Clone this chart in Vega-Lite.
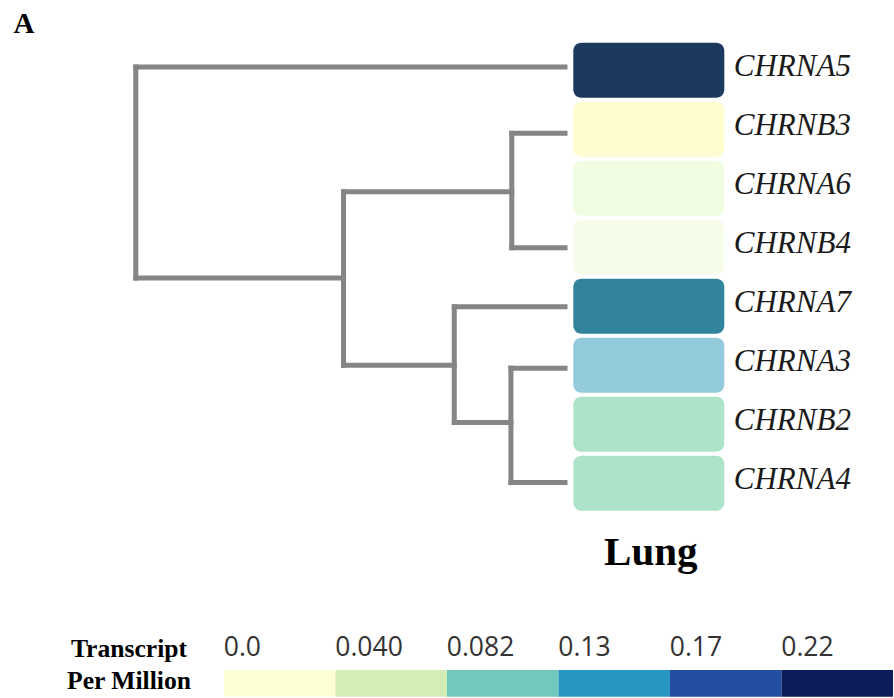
{
  "$schema": "https://vega.github.io/schema/vega-lite/v6.json",
  "width": 894,
  "height": 698,
  "autosize": "none",
  "padding": 0,
  "background": "white",
  "config": {"view": {"stroke": null}, "axis": {"grid": false}},
  "datasets": {
    "tree": [
      {"h1": 1.0, "h2": 1.0, "p1": -0.054, "p2": 3.52},
      {"h1": 1.0, "h2": 0.0, "p1": -0.054, "p2": -0.054},
      {"h1": 1.0, "h2": 0.516, "p1": 3.52, "p2": 3.52},
      {"h1": 0.516, "h2": 0.516, "p1": 2.06, "p2": 5.0},
      {"h1": 0.516, "h2": 0.124, "p1": 2.06, "p2": 2.06},
      {"h1": 0.124, "h2": 0.124, "p1": 1.07, "p2": 3.01},
      {"h1": 0.124, "h2": 0.0, "p1": 1.07, "p2": 1.07},
      {"h1": 0.124, "h2": 0.0, "p1": 3.01, "p2": 3.01},
      {"h1": 0.516, "h2": 0.258, "p1": 5.0, "p2": 5.0},
      {"h1": 0.258, "h2": 0.258, "p1": 4.01, "p2": 5.97},
      {"h1": 0.258, "h2": 0.0, "p1": 4.01, "p2": 4.01},
      {"h1": 0.258, "h2": 0.126, "p1": 5.97, "p2": 5.97},
      {"h1": 0.126, "h2": 0.126, "p1": 5.05, "p2": 6.99},
      {"h1": 0.126, "h2": 0.0, "p1": 5.05, "p2": 5.05},
      {"h1": 0.126, "h2": 0.0, "p1": 6.99, "p2": 6.99}
    ],
    "genes": [
      {"gene": "CHRNA5", "order": 0, "tissue": "Lung", "tpm": 0.24},
      {"gene": "CHRNB3", "order": 1, "tissue": "Lung", "tpm": 0.0},
      {"gene": "CHRNA6", "order": 2, "tissue": "Lung", "tpm": 0.015},
      {"gene": "CHRNB4", "order": 3, "tissue": "Lung", "tpm": 0.008},
      {"gene": "CHRNA7", "order": 4, "tissue": "Lung", "tpm": 0.17},
      {"gene": "CHRNA3", "order": 5, "tissue": "Lung", "tpm": 0.12},
      {"gene": "CHRNB2", "order": 6, "tissue": "Lung", "tpm": 0.085},
      {"gene": "CHRNA4", "order": 7, "tissue": "Lung", "tpm": 0.085}
    ],
    "legend": [
      {"label": "0.0", "key": "TPM"},
      {"label": "0.040", "key": "TPM"},
      {"label": "0.082", "key": "TPM"},
      {"label": "0.13", "key": "TPM"},
      {"label": "0.17", "key": "TPM"},
      {"label": "0.22", "key": "TPM"}
    ]
  },
  "layer": [
    {
      "data": {"name": "tree"},
      "mark": {"type": "rule", "color": "#858585", "strokeWidth": 5, "strokeCap": "square"},
      "encoding": {
        "x": {"field": "h1", "type": "quantitative", "axis": null, "scale": {"domain": [0, 1], "range": [565, 135.8], "zero": false, "nice": false}},
        "x2": {"field": "h2"},
        "y": {"field": "p1", "type": "quantitative", "scale": {"domain": [0, 7], "range": [70.2, 483.2], "zero": false, "nice": false},
              "axis": {"orient": "left", "offset": 0, "domain": false, "ticks": false, "labels": false,
                       "title": "A", "titleAngle": 0, "titleAlign": "left", "titleBaseline": "alphabetic", "titleX": 13, "titleY": 32,
                       "titleFont": "Liberation Serif", "titleFontSize": 29, "titleFontWeight": "bold", "titleColor": "#000000"}},
        "y2": {"field": "p2"}
      }
    },
    {
      "data": {"name": "genes"},
      "mark": {"type": "rect", "cornerRadius": 8},
      "encoding": {
        "x": {"field": "tissue", "type": "nominal", "title": null,
              "scale": {"type": "band", "range": [573.3, 724.3], "paddingInner": 0, "paddingOuter": 0},
              "axis": {"orient": "bottom", "offset": -185.3, "domain": false, "ticks": false, "labelPadding": 52, "labelBaseline": "alphabetic", "labelOffset": 2, "labelFont": "Liberation Serif", "labelFontSize": 41, "labelFontWeight": "bold", "labelColor": "#000000", "labelAngle": 0}},
        "y": {"field": "gene", "type": "nominal", "title": null, "sort": {"field": "order"},
              "scale": {"type": "band", "range": [40.7, 512.7], "paddingInner": 0.068, "paddingOuter": 0.034},
              "axis": {"orient": "right", "offset": -169.7, "domain": false, "ticks": false, "labelPadding": 9, "labelAlign": "left", "labelOffset": -3, "labelFont": "Liberation Serif", "labelFontStyle": "italic", "labelFontSize": 31, "labelColor": "#1a1a1a"}},
        "color": {"field": "tpm", "type": "quantitative", "legend": null,
                  "scale": {"domain": [0, 0.008, 0.015, 0.085, 0.12, 0.17, 0.24], "range": ["#fefdcf", "#f6fcea", "#effde3", "#ade3c8", "#93cbdc", "#32849d", "#1b3a5e"], "interpolate": "rgb"}}
      }
    },
    {
      "data": {"name": "legend"},
      "mark": {"type": "rect"},
      "encoding": {
        "x": {"field": "label", "type": "ordinal", "sort": null, "title": null,
              "scale": {"type": "band", "range": [224, 893], "paddingInner": 0, "paddingOuter": 0},
              "axis": {"orient": "top", "offset": -670, "domain": false, "ticks": false, "labelPadding": 15, "labelAlign": "left", "labelOffset": -56, "labelBaseline": "alphabetic", "labelAngle": 0, "labelFont": "Open Sans", "labelFontSize": 26.5, "labelColor": "#333333"}},
        "y": {"field": "key", "type": "nominal",
              "scale": {"type": "band", "range": [670, 696.7], "paddingInner": 0, "paddingOuter": 0},
              "axis": {"orient": "left", "offset": -224, "domain": false, "ticks": false, "labels": false,
                       "title": ["Transcript", "Per Million"], "titleAngle": 0, "titleAlign": "center", "titleBaseline": "alphabetic", "titleX": -95.5, "titleY": 656, "titleLineHeight": 32, "titleFont": "Liberation Serif", "titleFontSize": 25.6, "titleFontWeight": "bold", "titleColor": "#000000"}},
        "color": {"field": "label", "type": "ordinal", "sort": null, "legend": null,
                  "scale": {"domain": ["0.0", "0.040", "0.082", "0.13", "0.17", "0.22"], "range": ["#ffffd6", "#d4edb6", "#73c8bd", "#2698c3", "#234da0", "#0b1c58"]}}
      }
    }
  ],
  "resolve": {"scale": {"x": "independent", "y": "independent", "color": "independent"}}
}
